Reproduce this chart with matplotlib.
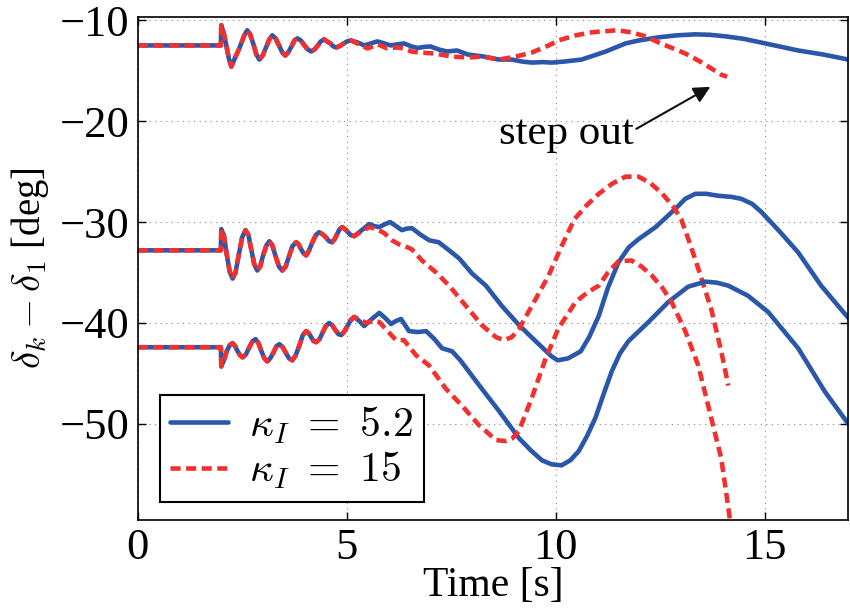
import matplotlib.pyplot as plt
import numpy as np

# values (t in s, angle in deg)
# shared start of each pair (both gains overlap up to ~5 s)
t_top0 = [0, 1.99, 2.0, 2.06, 2.12, 2.18, 2.24, 2.30, 2.43, 2.55, 2.62, 2.69, 2.77, 2.84, 2.91, 2.99, 3.07, 3.15,
          3.22, 3.30, 3.38, 3.46, 3.53, 3.60, 3.68, 3.75, 3.82, 3.90, 3.99, 4.07, 4.15, 4.23, 4.31, 4.38, 4.46,
          4.53, 4.61, 4.68, 4.75, 4.84, 4.93, 5.01, 5.1]
y_top0 = [-12.5, -12.5, -10.5, -11.3, -12.5, -13.8, -14.6, -14.0, -12.8, -11.5, -11.0, -11.4, -12.4, -13.4, -13.9,
          -13.5, -12.7, -11.9, -11.5, -11.8, -12.5, -13.2, -13.5, -13.2, -12.6, -12.0, -11.8, -12.0, -12.5, -12.9,
          -13.1, -12.9, -12.5, -12.1, -11.9, -12.1, -12.3, -12.6, -12.7, -12.55, -12.3, -12.1, -12.0]
t_mid0 = [0, 1.99, 2.0, 2.06, 2.13, 2.20, 2.27, 2.34, 2.42, 2.50, 2.58, 2.65, 2.72, 2.79, 2.86, 2.93, 3.0, 3.08,
          3.15, 3.22, 3.3, 3.38, 3.46, 3.54, 3.62, 3.70, 3.79, 3.85, 3.91, 3.97, 4.03, 4.1, 4.18, 4.26, 4.34, 4.42,
          4.5, 4.58, 4.65, 4.71, 4.77, 4.83, 4.89, 4.96, 5.03, 5.1, 5.18]
y_mid0 = [-32.8, -32.8, -30.7, -31.3, -33.2, -34.9, -35.6, -35.0, -33.2, -31.5, -30.8, -31.3, -32.8, -34.2, -34.8,
          -34.4, -33.3, -32.3, -31.9, -32.3, -33.4, -34.4, -34.8, -34.4, -33.4, -32.4, -32.0, -32.2, -32.7, -33.1,
          -33.3, -32.8, -32.0, -31.3, -31.0, -31.2, -31.5, -31.9, -32.0, -31.7, -31.2, -30.7, -30.5, -30.7, -31.0,
          -31.3, -31.4]
t_bot0 = [0, 1.99, 2.0, 2.07, 2.13, 2.2, 2.27, 2.33, 2.39, 2.45, 2.51, 2.59, 2.67, 2.75, 2.82, 2.89, 2.96, 3.03,
          3.1, 3.17, 3.25, 3.32, 3.39, 3.47, 3.55, 3.62, 3.7, 3.78, 3.87, 3.95, 4.03, 4.09, 4.15, 4.21, 4.27, 4.35,
          4.43, 4.5, 4.58, 4.65, 4.73, 4.8, 4.87, 4.95, 5.03, 5.1, 5.18]
y_bot0 = [-42.4, -42.4, -44.3, -43.6, -42.8, -42.2, -42.0, -42.3, -42.8, -43.2, -43.4, -43.1, -42.4, -41.8, -41.6,
          -42.0, -42.8, -43.5, -43.8, -43.5, -42.9, -42.3, -42.1, -42.4, -43.0, -43.5, -43.7, -43.2, -42.2, -41.2,
          -40.8, -41.0, -41.4, -41.8, -41.9, -41.6, -40.9, -40.3, -40.0, -40.2, -40.7, -41.1, -41.2, -40.8, -40.2,
          -39.7, -39.4]

# kappa_I = 5.2 (blue) after the shared start
t_top_a = [5.26, 5.42, 5.58, 5.73, 5.9, 6.05, 6.2, 6.37, 6.55, 6.7, 6.85, 7.0, 7.2, 7.4, 7.64, 7.9, 8.28, 8.64, 8.95,
           9.2, 9.43, 9.7, 9.9, 10.2, 10.62, 11.2, 11.67, 12.0, 12.46, 12.9, 13.34, 13.7, 14.06, 14.5, 14.9, 15.8,
           16.4, 17.0]
y_top_a = [-12.2, -12.5, -12.3, -12.1, -12.3, -12.5, -12.4, -12.3, -12.6, -12.75, -12.65, -12.6, -12.9, -13.1,
           -13.0, -13.4, -13.6, -13.9, -13.9, -14.1, -14.2, -14.15, -14.2, -14.1, -13.9, -13.1, -12.3, -12.0, -11.7,
           -11.5, -11.4, -11.45, -11.6, -11.85, -12.2, -13.0, -13.4, -13.9]
t_mid_a = [5.36, 5.54, 5.66, 5.78, 5.92, 6.04, 6.18, 6.32, 6.44, 6.56, 6.75, 6.97, 7.2, 7.45, 7.69, 8.0, 8.33, 8.71,
           9.12, 9.52, 9.9, 10.05, 10.3, 10.6, 10.8, 11.03, 11.25, 11.5, 11.75, 11.98, 12.39, 12.86, 13.1, 13.34,
           13.6, 13.9, 14.2, 14.44, 14.7, 14.92, 15.35, 15.8, 16.35, 17.0]
y_mid_a = [-30.8, -30.2, -30.4, -30.5, -30.2, -30.0, -30.4, -30.8, -30.65, -30.6, -31.2, -31.8, -32.0, -32.8,
           -33.6, -35.1, -36.3, -38.3, -40.2, -41.8, -43.3, -43.7, -43.5, -42.8, -41.4, -39.3, -36.5, -34.0, -32.5,
           -31.7, -30.5, -28.7, -27.7, -27.2, -27.2, -27.4, -27.5, -27.7, -28.2, -29.0, -30.9, -33.0, -36.3, -39.5]
t_bot_a = [5.3, 5.42, 5.6, 5.78, 5.92, 6.06, 6.18, 6.3, 6.49, 6.7, 6.9, 7.1, 7.28, 7.52, 7.72, 7.92, 8.23, 8.64,
           9.12, 9.4, 9.67, 9.9, 10.14, 10.35, 10.55, 10.75, 10.95, 11.15, 11.34, 11.54, 11.74, 12.22, 12.7, 13.17,
           13.58, 13.85, 14.13, 14.6, 15.08, 15.8, 16.44, 17.0]
y_bot_a = [-39.8, -40.3, -39.6, -39.0, -39.5, -40.1, -39.8, -39.6, -40.8, -40.9, -40.8, -41.6, -42.5, -42.8, -43.7,
           -44.8, -46.5, -48.7, -51.4, -52.6, -53.6, -54.0, -54.1, -53.6, -52.7, -51.2, -49.4, -47.0, -44.8, -43.0,
           -41.8, -39.9, -37.9, -36.4, -35.9, -36.0, -36.3, -37.3, -38.9, -42.5, -46.8, -50.0]

# kappa_I = 15 (red) after the shared start
t_top_b = [5.3, 5.5, 5.75, 5.97, 6.2, 6.37, 6.55, 6.73, 7.1, 7.5, 7.92, 8.23, 8.64, 9.05, 9.43, 9.83, 10.07, 10.48,
           10.86, 11.46, 11.81, 12.15, 12.46, 13.1, 13.5, 13.96, 14.1]
y_top_b = [-12.4, -12.8, -12.4, -12.8, -12.7, -12.8, -13.1, -13.2, -13.3, -13.6, -13.7, -13.6, -13.9, -13.6, -13.2,
           -12.5, -12.0, -11.5, -11.2, -11.0, -11.2, -11.6, -12.2, -13.3, -14.2, -15.4, -15.6]
t_mid_b = [5.36, 5.54, 5.72, 5.9, 6.08, 6.25, 6.4, 6.56, 6.8, 7.14, 7.45, 7.85, 8.23, 8.57, 8.76, 8.95, 9.12, 9.43,
           9.83, 10.14, 10.45, 10.75, 11.03, 11.35, 11.67, 11.98, 12.25, 12.53, 12.8, 13.0, 13.2, 13.41, 13.72,
           13.96, 14.13]
y_mid_b = [-30.9, -30.5, -30.7, -31.1, -31.8, -32.2, -32.4, -32.7, -33.8, -35.0, -36.3, -38.3, -40.2, -41.4, -41.7,
           -41.4, -40.6, -38.3, -35.3, -32.4, -29.7, -28.3, -27.2, -26.2, -25.5, -25.5, -26.1, -27.1, -28.4, -29.7,
           -32.0, -34.6, -38.6, -42.8, -46.2]
t_bot_b = [5.32, 5.47, 5.62, 5.78, 5.98, 6.18, 6.37, 6.66, 6.97, 7.37, 7.76, 8.16, 8.57, 8.8, 8.97, 9.12, 9.43,
           9.76, 10.07, 10.48, 10.75, 11.03, 11.25, 11.5, 11.81, 12.05, 12.3, 12.55, 12.77, 13.1, 13.41, 13.72,
           13.96, 14.13, 14.2]
y_bot_b = [-39.7, -40.0, -39.8, -39.9, -40.8, -41.7, -41.7, -43.2, -44.2, -46.5, -48.2, -50.1, -51.6, -51.7, -51.4,
           -50.7, -47.4, -43.5, -40.5, -37.9, -37.0, -36.3, -35.0, -33.9, -33.8, -34.4, -35.3, -36.5, -37.9, -40.8,
           -44.2, -49.4, -53.4, -58.3, -60.5]

blue = '#2b57ab'
red = '#f2312f'

plt.rcParams['font.family'] = 'Liberation Serif'
plt.rcParams['mathtext.fontset'] = 'cm'

fig = plt.figure(figsize=(8.5, 6.13), dpi=100)
ax = fig.add_axes([0.162, 0.152, 0.836, 0.82])

lw = 3.3
dash = (2.2, 1.2)
pairs = [(t_top0, y_top0, t_top_a, y_top_a, t_top_b, y_top_b),
         (t_mid0, y_mid0, t_mid_a, y_mid_a, t_mid_b, y_mid_b),
         (t_bot0, y_bot0, t_bot_a, y_bot_a, t_bot_b, y_bot_b)]
for i, (t0, y0, ta, ya, tb, yb) in enumerate(pairs):
    ax.plot(np.concatenate([t0, ta]), np.concatenate([y0, ya]), color=blue, lw=lw,
            solid_joinstyle='round', solid_capstyle='round',
            label=r'$\kappa_I\ =\ 5.2$' if i == 0 else None)
    ax.plot(np.concatenate([t0, tb]), np.concatenate([y0, yb]), color=red, lw=lw, dashes=dash,
            label=r'$\kappa_I\ =\ 15$' if i == 0 else None)

ax.set_xlim(0, 17)
ax.set_ylim(-59.5, -9.7)
ax.set_xticks([0, 5, 10, 15])
ax.set_yticks([-50, -40, -30, -20, -10])
ax.grid(True, color='#888888', linestyle=(0, (1, 4)), lw=0.8)
ax.tick_params(direction='in', length=6, width=1, labelsize=32, top=True, right=True, pad=6)
for s in ax.spines.values():
    s.set_linewidth(1.2)

ax.set_xlabel('Time [s]', fontsize=30, labelpad=-1)
ax.set_ylabel(r'$\delta_k - \delta_1$ [deg]', fontsize=28, labelpad=6)

ax.annotate('step out', xy=(13.7, -16.6), xytext=(10.25, -21.3), fontsize=31, ha='center', va='center',
            arrowprops=dict(arrowstyle='-|>', color='#111111', lw=1.5, mutation_scale=25, shrinkA=0, shrinkB=0,
                            relpos=(1.0, 0.6)))

leg = ax.legend(loc='lower left', bbox_to_anchor=(0.031, 0.036), borderaxespad=0, fontsize=30, handlelength=1.4,
                fancybox=False, edgecolor='black', framealpha=1, borderpad=0.25, labelspacing=0.1,
                handletextpad=0.5)
leg.get_frame().set_linewidth(1.5)

fig.savefig('out.png', dpi=100)
